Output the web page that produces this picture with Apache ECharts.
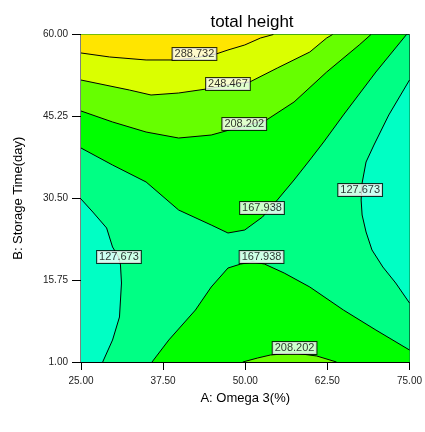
<!DOCTYPE html>
<html><head><meta charset="utf-8">
<script src="https://cdn.jsdelivr.net/npm/echarts@6/dist/echarts.min.js"></script>
<style>html,body{margin:0;padding:0;background:#fff}#c{width:425px;height:432px}</style>
</head><body><div id="c"></div>
<script>
// Axis ticks
const xTicks = [25.00, 37.50, 50.00, 62.50, 75.00];
const yTicks = [1.00, 15.75, 30.50, 45.25, 60.00];
// Contour levels
const levels = [127.673, 167.938, 208.202, 248.467, 288.732];
// Contour lines (A: Omega 3 %, B: Storage Time day)
const c288 = [[25,56.67],[29.35,55.95],[34.91,55.41],[39.11,55.41],[42.27,55.77],[45.57,56.49],[47.37,57.21],[49.92,58.11],[52.33,59.37],[54.28,60]];
const c248 = [[25,51.80],[32.36,50.00],[35.66,49.10],[39.86,49.46],[44.07,50.18],[47.37,50.90],[50.68,51.44],[54.88,53.96],[59.83,56.85],[62.39,59.37],[63.29,60]];
const c208Upper = [[25,46.22],[29.80,44.24],[34.91,42.43],[39.86,41.35],[44.82,41.89],[46.47,42.43],[49.77,43.52],[53.23,44.60],[57.43,47.84],[62.39,53.24],[67.34,58.11],[69.14,60]];
const c168Upper = [[25,39.55],[29.80,36.49],[34.91,33.43],[39.86,28.38],[44.82,25.68],[47.37,24.24],[49.92,24.78],[52.63,27.12],[54.88,30.18],[57.43,33.79],[59.83,37.39],[61.94,40.63],[64.94,45.50],[69.89,53.24],[74.55,60]];
const c128Right = [[75,51.80],[71.85,45.50],[69.59,40.09],[68.39,37.03],[67.79,33.25],[67.64,30.18],[67.79,27.48],[68.39,24.42],[69.29,21.18],[70.95,18.11],[72.90,15.23],[75,11.63]];
const c128Left = [[25,30.36],[26.80,28.02],[28.90,25.14],[29.80,21.72],[30.71,19.92],[31.01,18.47],[31.16,15.23],[30.86,9.11],[29.80,4.96],[28.30,1]];
const c168Lower = [[35.81,1],[38.36,4.96],[42.42,10.37],[44.82,14.51],[47.37,17.93],[49.32,18.65],[51.13,19.02],[52.93,18.65],[55.93,17.03],[59.83,14.51],[64.94,10.37],[69.89,6.76],[75,3.16]];
const c208Lower = [[49.62,1],[51.88,1.72],[53.83,2.26],[57.43,2.62],[60.89,2.08],[63.89,1]];
// Contour labels
const labelText = ['288.732','248.467','208.202','167.938','127.673','127.673','167.938','208.202'];
const labelX = [42.27, 47.37, 49.85, 52.55, 67.49, 30.78, 52.48, 57.51];
const labelY = [56.49, 51.08, 43.88, 28.74, 31.99, 19.92, 19.92, 3.52];

const bandColors = ['#00FFC4','#00FF84','#00FF00','#66FF00','#DAFF00','#FFE500'];
const X0 = xTicks[0], X1 = xTicks[xTicks.length-1], Y0 = yTicks[0], Y1 = yTicks[yTicks.length-1];

// Filled regions built from contour lines + plot edges
const regions = [
  {pts: [[X0,Y0],[X1,Y0],[X1,Y1],[X0,Y1]], band: 1},
  {pts: c128Left.concat([[X0,Y0]]), band: 0},
  {pts: c128Right, band: 0},
  {pts: c168Upper.concat([[X0,Y1]]), band: 2},
  {pts: c208Upper.concat([[X0,Y1]]), band: 3},
  {pts: c248.concat([[X0,Y1]]), band: 4},
  {pts: c288.concat([[X0,Y1]]), band: 5},
  {pts: c168Lower.concat([[X1,Y0]]), band: 2},
  {pts: c208Lower, band: 3}
];
const lines = [c288, c248, c208Upper, c168Upper, c128Right, c128Left, c168Lower, c208Lower];

const chart = echarts.init(document.getElementById('c'), null, {renderer: 'canvas'});
const font = 'Arial, "Liberation Sans", sans-serif';
const series = [{
  type: 'custom',
  z: 1,
  silent: true,
  clip: true,
  data: regions.map((r, i) => [X0, Y0, i]),
  renderItem: function (params, api) {
    const r = regions[api.value(2)];
    return {
      type: 'polygon',
      shape: {points: r.pts.map(p => api.coord(p))},
      style: {fill: bandColors[r.band], stroke: null}
    };
  }
}];
lines.forEach(l => series.push({
  type: 'line', z: 3, silent: true, symbol: 'none', data: l,
  lineStyle: {color: '#000', width: 1}
}));
series.push({
  type: 'scatter', z: 5, silent: true, symbolSize: 0,
  data: labelText.map((t, i) => ({name: t, value: [labelX[i], labelY[i]]})),
  label: {
    show: true, position: 'inside', formatter: '{b}',
    fontFamily: font, fontSize: 11, color: '#000', lineHeight: 11,
    backgroundColor: '#fff', borderColor: '#000', borderWidth: 1, padding: [1, 2, 0, 2]
  }
});

chart.setOption({
  animation: false,
  title: {
    text: 'total height', left: 247, top: 9, textAlign: 'center',
    textStyle: {fontFamily: font, fontSize: 17, fontWeight: 'normal', color: '#000'}
  },
  grid: {left: 81, right: 11, top: 34.5, bottom: 70, show: true, borderColor: '#000', borderWidth: 1, backgroundColor: 'transparent'},
  xAxis: {
    type: 'value', min: X0, max: X1, interval: xTicks[1] - xTicks[0],
    name: 'A: Omega 3(%)', nameLocation: 'middle', nameGap: 30,
    nameTextStyle: {fontFamily: font, fontSize: 13, color: '#000'},
    axisLine: {lineStyle: {color: '#000', width: 1}},
    axisTick: {show: true, length: 8, lineStyle: {color: '#000'}},
    axisLabel: {fontFamily: font, fontSize: 10, color: '#222', margin: 14, formatter: v => v.toFixed(2)},
    splitLine: {show: false}
  },
  yAxis: {
    type: 'value', min: Y0, max: Y1, interval: yTicks[1] - yTicks[0],
    name: 'B: Storage Time(day)', nameLocation: 'middle', nameGap: 56,
    nameTextStyle: {fontFamily: font, fontSize: 13, color: '#000'},
    axisLine: {lineStyle: {color: '#000', width: 1}},
    axisTick: {show: true, length: 9, lineStyle: {color: '#000'}},
    axisLabel: {fontFamily: font, fontSize: 10, color: '#222', margin: 13, formatter: v => v.toFixed(2)},
    splitLine: {show: false}
  },
  series: series
});
</script></body></html>
